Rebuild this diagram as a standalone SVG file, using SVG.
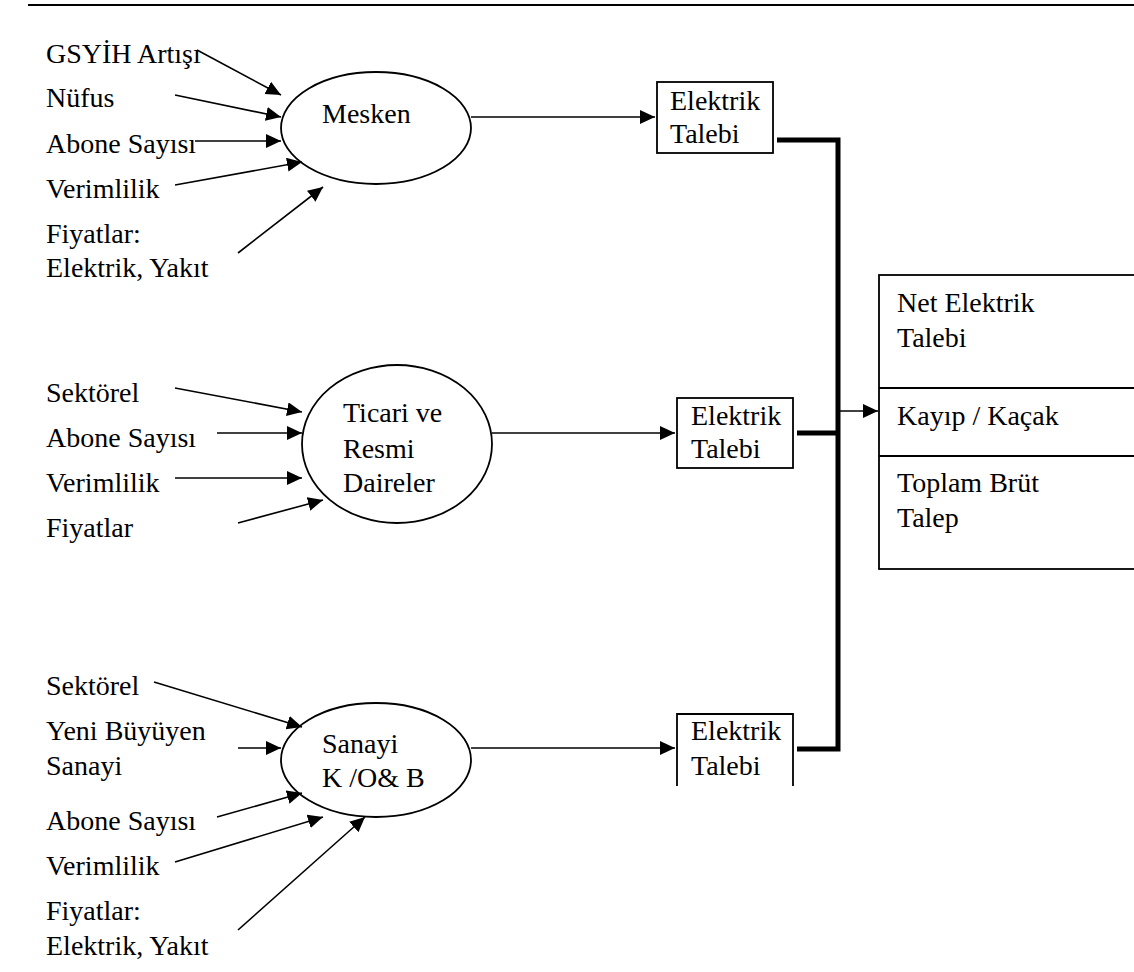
<svg xmlns="http://www.w3.org/2000/svg" width="1134" height="972" viewBox="0 0 1134 972">
<style>
.shape{fill:#fff;stroke:#000;stroke-width:1.8}
.arr{stroke:#000;stroke-width:1.6;fill:none;marker-end:url(#ah)}
.thick{stroke:#000;stroke-width:5;fill:none}
</style>
<defs>
<marker id="ah" markerUnits="userSpaceOnUse" markerWidth="16" markerHeight="15" refX="15" refY="7" orient="auto">
<path d="M0,0 L15,7 L0,14 z" fill="#000"/>
</marker>
</defs>
<rect width="1134" height="972" fill="#fff"/>
<line x1="28" y1="5" x2="1134" y2="5" stroke="#000" stroke-width="2"/>

<g id="labels-mesken" font-family="Liberation Serif, serif" font-size="28" fill="#000">
<text x="46" y="63">GSYİH Artışı</text>
<text x="46" y="107">Nüfus</text>
<text x="46" y="153">Abone Sayısı</text>
<text x="46" y="198">Verimlilik</text>
<text x="46" y="243">Fiyatlar:</text>
<text x="46" y="277">Elektrik, Yakıt</text>
</g>
<g id="labels-ticari" font-family="Liberation Serif, serif" font-size="28" fill="#000">
<text x="46" y="402">Sektörel</text>
<text x="46" y="447">Abone Sayısı</text>
<text x="46" y="492">Verimlilik</text>
<text x="46" y="537">Fiyatlar</text>
</g>
<g id="labels-sanayi" font-family="Liberation Serif, serif" font-size="28" fill="#000">
<text x="46" y="695">Sektörel</text>
<text x="46" y="740">Yeni Büyüyen</text>
<text x="46" y="775">Sanayi</text>
<text x="46" y="830">Abone Sayısı</text>
<text x="46" y="875">Verimlilik</text>
<text x="46" y="920">Fiyatlar:</text>
<text x="46" y="955">Elektrik, Yakıt</text>
</g>

<g id="node-mesken" font-family="Liberation Serif, serif" font-size="28">
<ellipse class="shape" cx="376" cy="128" rx="95" ry="56"/>
<text x="322" y="123">Mesken</text>
</g>
<g id="node-ticari" font-family="Liberation Serif, serif" font-size="28">
<ellipse class="shape" cx="397" cy="444" rx="95" ry="79"/>
<text x="343" y="422">Ticari ve</text>
<text x="343" y="458">Resmi</text>
<text x="343" y="492">Daireler</text>
</g>
<g id="node-sanayi" font-family="Liberation Serif, serif" font-size="28">
<ellipse class="shape" cx="376" cy="760" rx="95" ry="57"/>
<text x="322" y="753">Sanayi</text>
<text x="322" y="787">K /O&amp; B</text>
</g>

<g id="node-talep1" font-family="Liberation Serif, serif" font-size="28">
<rect class="shape" x="657" y="82" width="116" height="71"/>
<text x="670" y="110">Elektrik</text>
<text x="670" y="143">Talebi</text>
</g>
<g id="node-talep2" font-family="Liberation Serif, serif" font-size="28">
<rect class="shape" x="677" y="398" width="116" height="70"/>
<text x="691" y="425">Elektrik</text>
<text x="691" y="458">Talebi</text>
</g>
<g id="node-talep3" font-family="Liberation Serif, serif" font-size="28">
<path d="M677,786 V714 H793 V786" fill="none" stroke="#000" stroke-width="1.8"/>
<text x="691" y="740">Elektrik</text>
<text x="691" y="775">Talebi</text>
</g>

<g id="node-toplam" font-family="Liberation Serif, serif" font-size="28">
<rect class="shape" x="879" y="275" width="270" height="294"/>
<line x1="879" y1="388" x2="1134" y2="388" stroke="#000" stroke-width="1.8"/>
<line x1="879" y1="456" x2="1134" y2="456" stroke="#000" stroke-width="1.8"/>
<text x="897" y="312">Net Elektrik</text>
<text x="897" y="347">Talebi</text>
<text x="897" y="425">Kayıp / Kaçak</text>
<text x="897" y="492">Toplam Brüt</text>
<text x="897" y="527">Talep</text>
</g>

<g id="connectors">
<line class="arr" x1="197" y1="50" x2="281" y2="95"/>
<line class="arr" x1="175" y1="95" x2="281" y2="117"/>
<line class="arr" x1="195" y1="141" x2="281" y2="141"/>
<line class="arr" x1="175" y1="185" x2="302" y2="162"/>
<line class="arr" x1="238" y1="253" x2="323" y2="187"/>
<line class="arr" x1="471" y1="117" x2="655" y2="117"/>

<line class="arr" x1="175" y1="388" x2="302" y2="412"/>
<line class="arr" x1="217" y1="433" x2="302" y2="433"/>
<line class="arr" x1="175" y1="478" x2="302" y2="478"/>
<line class="arr" x1="238" y1="523" x2="323" y2="500"/>
<line class="arr" x1="492" y1="433" x2="675" y2="433"/>

<line class="arr" x1="154" y1="682" x2="302" y2="727"/>
<line class="arr" x1="238" y1="748" x2="281" y2="748"/>
<line class="arr" x1="217" y1="817" x2="302" y2="793"/>
<line class="arr" x1="175" y1="862" x2="323" y2="817"/>
<line class="arr" x1="238" y1="930" x2="365" y2="817"/>
<line class="arr" x1="471" y1="748" x2="675" y2="748"/>

<path class="thick" d="M777,140 H838 V749 H797"/>
<line class="thick" x1="797" y1="433" x2="838" y2="433"/>
<line class="arr" x1="838" y1="411" x2="878" y2="411" stroke-width="3"/>
</g>
</svg>
